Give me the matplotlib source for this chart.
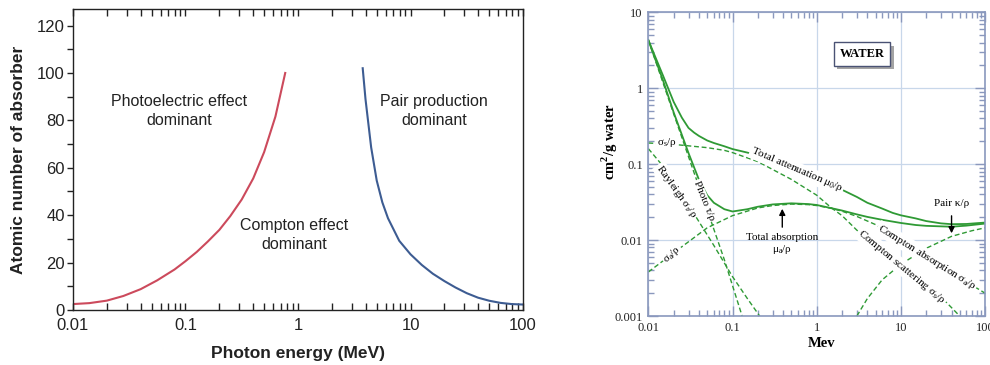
import matplotlib
matplotlib.use('Agg')
import matplotlib.pyplot as plt
import matplotlib.patheffects as pe
from matplotlib.ticker import LogLocator, MultipleLocator, NullFormatter

plt.rcParams['font.family'] = 'Liberation Sans'

# Left panel: borders between the regions where each interaction dominates.
photo_compton_e = [0.01, 0.014, 0.02, 0.028, 0.04, 0.056, 0.08, 0.1, 0.126, 0.158, 0.2,
                   0.25, 0.316, 0.4, 0.5, 0.63, 0.77]
photo_compton_z = [2.5, 2.9, 3.95, 5.9, 8.8, 12.5, 17.1, 20.6, 24.5, 28.9, 33.8,
                   39.6, 46.6, 55.5, 66.6, 81.6, 100]
compton_pair_e = [3.76, 3.98, 4.47, 5.01, 5.62, 6.31, 7.94, 10, 12.6, 15.8, 20, 25.1,
                  31.6, 39.8, 50.1, 63.1, 79.4, 100]
compton_pair_z = [102, 89, 68.6, 54.6, 45.4, 38.7, 29.2, 23.5, 19, 15.3, 12.2, 9.5,
                  7.1, 5.2, 3.9, 3.0, 2.5, 2.3]
energy_ticks = [0.01, 0.1, 1, 10, 100]
energy_labels = ['0.01', '0.1', '1', '10', '100']
z_ticks = [0, 20, 40, 60, 80, 100, 120]

# Right panel: coefficients for water, cm2/g.
tot_att_e = [0.01, 0.015, 0.02, 0.025, 0.03, 0.035, 0.04, 0.05, 0.06, 0.08, 0.1, 0.15, 0.2,
             0.3, 0.5, 0.8, 1, 1.5, 2, 3, 4, 6, 8, 10, 15, 20, 30, 40, 60, 80, 100]
tot_att = [4.3, 1.45, 0.66, 0.41, 0.3, 0.26, 0.235, 0.205, 0.19, 0.172, 0.158, 0.142, 0.13,
           0.11, 0.09, 0.073, 0.066, 0.054, 0.046, 0.037, 0.031, 0.026, 0.0228, 0.0212,
           0.0193, 0.0178, 0.0166, 0.0162, 0.0163, 0.0167, 0.017]
tot_abs_e = [0.01, 0.015, 0.02, 0.03, 0.04, 0.05, 0.06, 0.08, 0.1, 0.15, 0.2, 0.3, 0.5, 0.8,
             1, 1.5, 2, 3, 4, 6, 10, 15, 20, 40, 60, 100]
tot_abs = [4.3, 1.25, 0.48, 0.14, 0.062, 0.039, 0.031, 0.0255, 0.0238, 0.0255, 0.0275, 0.0295,
           0.0305, 0.0298, 0.029, 0.0263, 0.0245, 0.0218, 0.0202, 0.0185, 0.0168, 0.0158,
           0.0154, 0.015, 0.0155, 0.0165]
photo_e = [0.01, 0.02, 0.034, 0.05, 0.08, 0.13]
photo = [4.3, 0.46, 0.084, 0.025, 0.0055, 0.001]
rayleigh_e = [0.01, 0.02, 0.036, 0.06, 0.1, 0.15, 0.21]
rayleigh = [0.16, 0.064, 0.021, 0.0085, 0.0033, 0.0017, 0.001]
comp_s_e = [0.01, 0.02, 0.05, 0.08, 0.1, 0.2, 0.3, 0.5, 1, 1.5, 2, 3, 5, 10, 20, 35, 50]
comp_s = [0.19, 0.182, 0.165, 0.152, 0.142, 0.108, 0.085, 0.063, 0.039, 0.0265, 0.021, 0.0135,
          0.0085, 0.0045, 0.0025, 0.0015, 0.001]
comp_a_e = [0.01, 0.02, 0.03, 0.05, 0.1, 0.2, 0.3, 0.5, 0.8, 1, 1.5, 2, 3, 5, 10, 20, 50, 100]
comp_a = [0.0038, 0.0068, 0.0095, 0.0145, 0.021, 0.0265, 0.0285, 0.0298, 0.0293, 0.0285, 0.0262,
          0.024, 0.0205, 0.016, 0.0098, 0.0062, 0.0032, 0.002]
pair_e = [3, 4, 6, 10, 20, 40, 70, 100]
pair = [0.001, 0.0017, 0.003, 0.0048, 0.0078, 0.0112, 0.0133, 0.0145]
water_ticks = [0.001, 0.01, 0.1, 1, 10]
water_labels = ['0.001', '0.01', '0.1', '1', '10']

fig = plt.figure(figsize=(9.9, 3.65), dpi=100)

# ---- Left panel ----
ax1 = fig.add_axes([0.0737, 0.1507, 0.4546, 0.8247])
ax1.set_xscale('log')
ax1.plot(photo_compton_e, photo_compton_z, color='#cc4a5c', lw=1.5)
ax1.plot(compton_pair_e, compton_pair_z, color='#3d5c92', lw=1.5)
ax1.set_xlim(0.01, 100)
ax1.set_ylim(0, 127)
ax1.set_xticks(energy_ticks, energy_labels)
ax1.xaxis.set_minor_locator(LogLocator(base=10, subs=(2, 3, 4, 5, 6, 7, 8, 9)))
ax1.xaxis.set_minor_formatter(NullFormatter())
ax1.tick_params(axis='x', which='both', direction='in', top=True, length=5, width=1,
                labelsize=12, pad=6, colors='#222222')
ax1.set_yticks(z_ticks)
ax1.yaxis.set_minor_locator(MultipleLocator(10))
ax1.tick_params(axis='y', which='both', direction='out', length=4, width=1,
                labelsize=12, pad=2, colors='#222222')
for s in ax1.spines.values():
    s.set_linewidth(1.0)
    s.set_color('#222222')
ax1.set_xlabel('Photon energy (MeV)', fontsize=12.5, fontweight='bold', color='#222222',
               va='center')
ax1.xaxis.set_label_coords(0.5, -0.146)
ax1.set_ylabel('Atomic number of absorber', fontsize=12.5, fontweight='bold',
               color='#222222', va='center')
ax1.yaxis.set_label_coords(-0.122, 0.5)

ax1.text(0.0875, 84, 'Photoelectric effect\ndominant', ha='center', va='center',
         fontsize=11.5, linespacing=1.35, color='#222222')
ax1.text(0.92, 31.6, 'Compton effect\ndominant', ha='center', va='center',
         fontsize=11.5, linespacing=1.35, color='#222222')
ax1.text(16.2, 84, 'Pair production\ndominant', ha='center', va='center',
         fontsize=11.5, linespacing=1.35, color='#222222')

# ---- Right panel ----
green = '#2f9a35'
serif = 'Liberation Serif'
ax2 = fig.add_axes([0.6549, 0.1342, 0.3401, 0.8321])
ax2.set_xscale('log')
ax2.set_yscale('log')
ax2.plot(tot_att_e, tot_att, color=green, lw=1.3, zorder=2)
ax2.plot(tot_abs_e, tot_abs, color=green, lw=1.3, zorder=2)
dash = dict(color=green, lw=1.0, ls=(0, (3.5, 2)), zorder=2)
ax2.plot(photo_e, photo, **dash)
ax2.plot(rayleigh_e, rayleigh, **dash)
ax2.plot(comp_s_e, comp_s, **dash)
ax2.plot(comp_a_e, comp_a, **dash)
ax2.plot(pair_e, pair, **dash)
ax2.set_xlim(0.01, 100)
ax2.set_ylim(0.001, 10)
ax2.grid(True, which='major', color='#c8d7ea', lw=0.9)
ax2.set_axisbelow(True)

ax2.set_xticks(energy_ticks, energy_labels, fontfamily=serif)
ax2.set_yticks(water_ticks, water_labels, fontfamily=serif)
for axis in (ax2.xaxis, ax2.yaxis):
    axis.set_minor_locator(LogLocator(base=10, subs=(2, 3, 4, 5, 6, 7, 8, 9)))
    axis.set_minor_formatter(NullFormatter())
ax2.tick_params(which='both', direction='in', top=True, right=True, color='#8a98bd',
                labelsize=9, labelcolor='#222222', width=1)
ax2.tick_params(which='major', length=7)
ax2.tick_params(which='minor', length=4)
ax2.tick_params(axis='x', pad=4)
ax2.tick_params(axis='y', pad=4)
for s in ax2.spines.values():
    s.set_linewidth(1.2)
    s.set_color('#8a98bd')

ax2.set_xlabel('Mev', fontsize=10.5, fontweight='bold', fontfamily=serif, va='center')
ax2.xaxis.set_label_coords(0.515, -0.089)
ax2.set_ylabel('cm$^\\mathregular{2}$/g water', fontsize=10.5, fontweight='bold',
               fontfamily=serif, va='center')
ax2.yaxis.set_label_coords(-0.114, 0.573)

lbl = dict(fontfamily=serif, fontsize=8, ha='center', va='center', zorder=3,
           rotation_mode='anchor',
           bbox=dict(boxstyle='square,pad=0.1', fc='white', ec='none'))
ax2.text(0.0167, 0.19, '\u03c3$_\\mathregular{s}$/\u03c1', **lbl)
ax2.text(0.58, 0.084, 'Total attenuation \u03bc$_\\mathregular{0}$/\u03c1', rotation=-23.2, **lbl)
ax2.text(0.0216, 0.0442, 'Rayleigh \u03c3$_\\mathregular{r}$/\u03c1', rotation=-54.6, **lbl)
ax2.text(0.0453, 0.0327, 'Photo \u03c4/\u03c1', rotation=-68, **lbl)
ax2.text(0.019, 0.00655, '\u03c3$_\\mathregular{a}$/\u03c1', rotation=42.5, **lbl)
ax2.text(20.4, 0.00597, 'Compton absorption \u03c3$_\\mathregular{a}$/\u03c1', rotation=-31.8, **lbl)
ax2.text(10.3, 0.0044, 'Compton scattering \u03c3$_\\mathregular{s}$/\u03c1', rotation=-39.5, **lbl)

ax2.text(0.387, 0.0087, 'Total absorption\n\u03bc$_\\mathregular{a}$/\u03c1', fontfamily=serif,
         fontsize=8, ha='center', va='center', linespacing=1.1, zorder=3)
ax2.annotate('', xy=(0.39, 0.0281), xytext=(0.39, 0.0136),
             arrowprops=dict(arrowstyle='-|>', color='black', lw=1, mutation_scale=9))
ax2.text(40, 0.0307, 'Pair \u03ba/\u03c1', fontfamily=serif, fontsize=8,
         ha='center', va='center', zorder=3)
ax2.annotate('', xy=(40, 0.0113), xytext=(40, 0.0227),
             arrowprops=dict(arrowstyle='-|>', color='black', lw=1, mutation_scale=9))

water = ax2.text(3.45, 2.82, 'WATER', fontfamily=serif, fontsize=9, fontweight='bold',
                 ha='center', va='center', zorder=5,
                 bbox=dict(boxstyle='square,pad=0.45', fc='white', ec='#4a5274', lw=1.0))
water.get_bbox_patch().set_path_effects(
    [pe.withSimplePatchShadow(offset=(2.5, -2.5), shadow_rgbFace='#9a9a9a', alpha=0.9)])

fig.savefig('out.png', dpi=100)
